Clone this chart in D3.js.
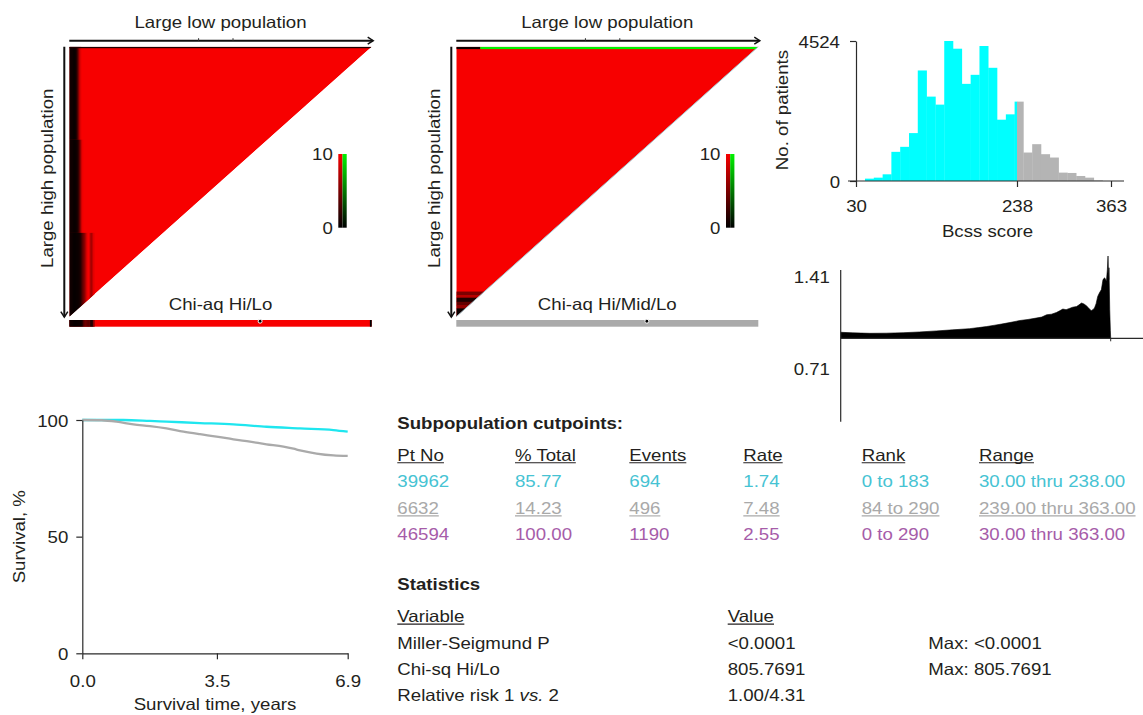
<!DOCTYPE html>
<html>
<head>
<meta charset="utf-8">
<script src="https://cdn.jsdelivr.net/npm/d3@7"></script>
<style>
  html, body { margin: 0; padding: 0; background: #fff; }
  svg { display: block; font-family: "Liberation Sans", Arial, Helvetica, sans-serif; }
</style>
</head>
<body>
<svg id="chart" width="1143" height="715"></svg>
<script>
// ---------------- data ----------------
const rankMax = 290;          // patients ranked 0..290 along both population axes
const optimalRank = 183;      // selected cut point
const rankMarks = [124, 157];
const legendTicks = [0, 10];

// Hi/Lo chi-square by low-population rank for the leading columns (others saturate >= 10),
// given for three bands of high-population rank
const hiLoBandStarts = [0, 100, 200];
const hiLoChiBandA = [0.2, 0.2, 0.25, 0.3, 0.35, 0.45, 0.9, 2.2, 4.5, 7, 9];
const hiLoChiBandB = [0.2, 0.2, 0.25, 0.3, 0.35, 0.4, 0.5, 0.8, 1.6, 3.2, 5.5, 8, 9.5];
const hiLoChiBandC = [0.15, 0.15, 0.2, 0.2, 0.25, 0.3, 0.35, 0.4, 0.5, 0.7, 1.1, 2.2, 3.5, 4.5, 5.5, 7, 8.5, 9.5, 10, 9, 7, 6.5, 8, 9.5];
const hiLoTopRowChi = 1.2;
const hiLoBarChi = [0.2, 0.2, 0.2, 0.25, 0.25, 0.3, 0.3, 0.35, 0.4, 0.45, 0.5, 0.7, 1.2, 3, 4, 4.5, 4.2, 3.8, 3.5, 3.8, 1.2, 0.9, 1.5, 6.5];

// Hi/Mid/Lo: top-row runs [start rank, chi] (negative = inverse association) and bottom-row runs
const hmlTopRuns = [[0, 0.5], [23, -10]];
const hmlBottomRuns = [[263, 5], [266.7, 7.5], [269.6, 1.2], [274, 4], [277.4, 6], [281, 0.4]];

// Bcss score histogram
const binEdges = [41.6, 53.0, 64.4, 75.7, 87.1, 98.5, 109.8, 121.2, 132.6, 144.0, 155.3, 166.7, 178.1,
                  189.5, 200.8, 212.2, 223.6, 234.9, 246.5, 258.2, 269.9, 281.6, 293.3, 305.0, 316.7,
                  328.4, 340.1, 351.8];
const binCounts = [76, 108, 216, 942, 1104, 1548, 3572, 2727, 2468, 4524, 4275, 3139, 3431,
                   4362, 3658, 1981, 2154, 2565, 920, 1190, 866, 758, 271, 260, 162, 108, 20];
const cutScore = 238;
const histXTicks = [30, 238, 363];
const histYTicks = [0, 4524];

// relative-risk profile across scores
const rrScore = [30, 45, 66, 86, 107, 127, 148, 168, 189, 200, 210, 220, 230, 240, 251, 261, 271, 278, 284,
                 290, 296, 300, 304, 308, 312, 316, 321, 324, 327, 330, 333, 336, 339, 341, 343, 345, 347,
                 349, 351.5, 353.5, 355.6, 357.7, 358.9, 359.7, 360.5, 360.9, 361.8, 362.6, 363];
const rrValue = [1.040, 1.036, 1.033, 1.034, 1.037, 1.042, 1.049, 1.056, 1.064, 1.071, 1.078, 1.087, 1.096,
                 1.106, 1.118, 1.125, 1.134, 1.141, 1.156, 1.160, 1.171, 1.182, 1.194, 1.190, 1.198, 1.206,
                 1.211, 1.222, 1.234, 1.228, 1.216, 1.200, 1.183, 1.190, 1.201, 1.230, 1.278, 1.300, 1.323,
                 1.390, 1.401, 1.379, 1.457, 1.546, 1.390, 1.468, 1.190, 1.05, 1.0];
const rrTicks = [0.71, 1.41];

// Kaplan-Meier survival
const survLoTime = [0, 1.07, 1.76, 2.19, 3.06, 3.93, 4.79, 5.66, 6.53, 6.9];
const survLoPct  = [100, 100, 99.6, 99.3, 98.7, 98.1, 97.1, 96.4, 95.7, 95.0];
const survHiTime = [0, 0.5, 0.89, 1.33, 1.76, 2.19, 2.63, 3.06, 3.49, 3.93, 4.36, 4.79, 5.23, 5.49, 5.66, 6.09, 6.53, 6.9];
const survHiPct  = [100, 99.9, 99.3, 98.1, 97.4, 96.4, 95.0, 93.9, 92.9, 91.7, 90.7, 89.6, 88.6, 87.7, 87.0, 85.6, 84.8, 84.6];
const survXTicks = [0, 3.5, 6.9];
const survYTicks = [0, 50, 100];

// subpopulation table
const cutHeaders = ["Pt No", "% Total", "Events", "Rate", "Rank", "Range"];
const cutRows = [
  ["39962", "85.77", "694", "1.74", "0 to 183", "30.00 thru 238.00"],
  ["6632", "14.23", "496", "7.48", "84 to 290", "239.00 thru 363.00"],
  ["46594", "100.00", "1190", "2.55", "0 to 290", "30.00 thru 363.00"]
];
const statHeaders = ["Variable", "Value"];
const statRows = [
  ["Miller-Seigmund P", "<0.0001", "Max: <0.0001"],
  ["Chi-sq Hi/Lo", "805.7691", "Max: 805.7691"],
  ["Relative risk 1 vs. 2", "1.00/4.31", ""]
];

// ---------------- style ----------------
const INK = "#231f20";
const AXIS = "#2a2a2a";
const RED = "#f70000", GREEN = "#00f200";
const CYAN_BAR = "#00ffff", GRAY_BAR = "#b4b4b4";
const CYAN_LINE = "#1fe6ef", GRAY_LINE = "#aaaaaa";
const rowColors = ["#46c3d3", "#a9a9a9", "#a65ca9"];
const FS = 16.5;
const STRETCH = 1.13;

const svg = d3.select("#chart");

function heatColor(v) {
  return v >= 0
    ? d3.interpolateRgb("#000000", RED)(Math.min(v, 10) / 10)
    : d3.interpolateRgb("#000000", GREEN)(Math.min(-v, 10) / 10);
}

// widen glyphs slightly, the way the typeface is set in this figure
function widen(sel) {
  sel.each(function () {
    const len = this.getComputedTextLength();
    if (len > 0) {
      this.setAttribute("textLength", (len * STRETCH).toFixed(2));
      this.setAttribute("lengthAdjust", "spacingAndGlyphs");
    }
  });
  return sel;
}

function label(g, x, y, str, opt = {}) {
  const t = g.append("text")
    .attr("x", x).attr("y", y)
    .attr("font-size", opt.size || FS)
    .attr("font-weight", opt.weight || null)
    .attr("text-anchor", opt.anchor || "start")
    .attr("fill", opt.fill || INK)
    .text(str);
  if (opt.rotate) t.attr("transform", `rotate(-90,${x},${y})`);
  widen(t);
  return t;
}

function underline(g, textSel, y, color) {
  const n = textSel.node();
  const x = +n.getAttribute("x");
  const w = +n.getAttribute("textLength") || n.getComputedTextLength();
  g.append("line").attr("x1", x).attr("x2", x + w)
    .attr("y1", y).attr("y2", y)
    .attr("stroke", color).attr("stroke-width", 1.1);
}

// ---------------- heat-map triangles ----------------
function heatPanel(cfg, id) {
  const g = svg.append("g");
  const x = d3.scaleLinear().domain([0, rankMax]).range([cfg.x0, cfg.x1]);
  const y = d3.scaleLinear().domain([0, rankMax]).range([cfg.y0, cfg.y1]);
  const tri = d3.line()([[x(0), y(0)], [x(rankMax), y(0)], [x(0), y(rankMax)]]) + "Z";

  svg.append("defs").append("clipPath").attr("id", id)
    .append("path").attr("d", tri);

  const body = g.append("g").attr("clip-path", `url(#${id})`);
  body.append("path").attr("d", tri).attr("fill", RED);
  cfg.cells(body, x, y);
  if (cfg.edge) g.append("line")
    .attr("x1", x(0)).attr("y1", y(rankMax)).attr("x2", x(rankMax)).attr("y2", y(0))
    .attr("stroke", cfg.edge).attr("stroke-width", 1);

  // top arrow (low population)
  const ay = cfg.y0 - 6;
  g.append("line").attr("x1", x(0)).attr("x2", x(rankMax) + 1).attr("y1", ay).attr("y2", ay)
    .attr("stroke", "#111").attr("stroke-width", 2);
  g.append("path").attr("d", `M${x(rankMax) - 4},${ay - 3.5}L${x(rankMax) + 1.5},${ay}L${x(rankMax) - 4},${ay + 3.5}`)
    .attr("fill", "none").attr("stroke", "#111").attr("stroke-width", 1.5);
  rankMarks.forEach(r => g.append("line").attr("x1", x(r)).attr("x2", x(r))
    .attr("y1", ay - 2.5).attr("y2", ay).attr("stroke", "#333").attr("stroke-width", 1));

  // left arrow (high population)
  const ax = cfg.x0 - 5;
  g.append("line").attr("x1", ax).attr("x2", ax).attr("y1", y(0)).attr("y2", y(rankMax))
    .attr("stroke", "#111").attr("stroke-width", 2);
  g.append("path").attr("d", `M${ax - 3.5},${y(rankMax) - 5}L${ax},${y(rankMax) + 0.5}L${ax + 3.5},${y(rankMax) - 5}`)
    .attr("fill", "none").attr("stroke", "#111").attr("stroke-width", 1.5);

  // titles
  const cx = (x(0) + x(rankMax)) / 2;
  label(g, cx, 27.5, "Large low population", { anchor: "middle" });
  label(g, cfg.x0 - 15.8, 178.3, "Large high population", { anchor: "middle", rotate: true });
  label(g, cx, 310, cfg.sub, { anchor: "middle" });

  // colour key
  const ly = d3.scaleLinear().domain(d3.extent(legendTicks)).range([227.7, 154]);
  const defs = svg.append("defs");
  [["r", 1], ["g", -1]].forEach(([k, sgn]) => {
    const gr = defs.append("linearGradient").attr("id", id + k)
      .attr("x1", 0).attr("y1", 1).attr("x2", 0).attr("y2", 0);
    legendTicks.forEach(v => gr.append("stop")
      .attr("offset", (v - legendTicks[0]) / (legendTicks[1] - legendTicks[0]))
      .attr("stop-color", heatColor(sgn * v)));
  });
  g.append("rect").attr("x", cfg.legendX).attr("y", ly(10)).attr("width", 4.2)
    .attr("height", ly(0) - ly(10)).attr("fill", `url(#${id}r)`);
  g.append("rect").attr("x", cfg.legendX + 4.2).attr("y", ly(10)).attr("width", 4.2)
    .attr("height", ly(0) - ly(10)).attr("fill", `url(#${id}g)`);
  legendTicks.forEach(v => label(g, cfg.legendX - 5.5, ly(v) + 6, String(v), { anchor: "end" }));

  // one-dimensional cut bar
  const by = 320, bh = 6.7;
  cfg.bar(g, x, by, bh);
  g.append("circle").attr("cx", x(optimalRank)).attr("cy", by + 1.2).attr("r", 2)
    .attr("fill", "#000").attr("stroke", "#fff").attr("stroke-width", 1);
}

function colRect(sel, x, y, c, r0, r1, v) {
  sel.append("rect").attr("x", x(c)).attr("y", y(r0))
    .attr("width", x(c + 1) - x(c) + 0.5).attr("height", Math.max(0, y(r1) - y(r0)))
    .attr("fill", heatColor(v));
}

heatPanel({
  x0: 69.3, x1: 371.7, y0: 46.7, y1: 316.7, legendX: 338.3, sub: "Chi-aq Hi/Lo",
  cells(body, x, y) {
    [hiLoChiBandA, hiLoChiBandB, hiLoChiBandC].forEach((band, b) => {
      const r0 = hiLoBandStarts[b];
      const r1 = b + 1 < hiLoBandStarts.length ? hiLoBandStarts[b + 1] : rankMax;
      band.forEach((v, c) => colRect(body, x, y, c, r0, Math.min(r1, rankMax - c), v));
    });
    body.append("rect").attr("x", x(0)).attr("y", y(0)).attr("width", x(rankMax) - x(0))
      .attr("height", y(1.6) - y(0)).attr("fill", heatColor(hiLoTopRowChi));
  },
  bar(g, x, by, bh) {
    g.append("rect").attr("x", x(0)).attr("y", by).attr("width", x(rankMax) - x(0)).attr("height", bh).attr("fill", RED);
    hiLoBarChi.forEach((v, c) => g.append("rect").attr("x", x(c)).attr("y", by)
      .attr("width", x(c + 1) - x(c) + 0.5).attr("height", bh).attr("fill", heatColor(v)));
    g.append("rect").attr("x", x(rankMax) - 1.8).attr("y", by).attr("width", 1.8).attr("height", bh).attr("fill", "#000");
  }
}, "hl");

heatPanel({
  x0: 456.3, x1: 758.3, y0: 46.7, y1: 316.7, legendX: 726, sub: "Chi-aq Hi/Mid/Lo", edge: "#a8c3cb",
  cells(body, x, y) {
    hmlTopRuns.forEach(([s, v], i) => {
      const e = i + 1 < hmlTopRuns.length ? hmlTopRuns[i + 1][0] : rankMax;
      body.append("rect").attr("x", x(s)).attr("y", y(0)).attr("width", x(e) - x(s))
        .attr("height", y(2.6) - y(0)).attr("fill", heatColor(v));
    });
    hmlBottomRuns.forEach(([s, v], i) => {
      const e = i + 1 < hmlBottomRuns.length ? hmlBottomRuns[i + 1][0] : rankMax;
      body.append("rect").attr("x", x(0)).attr("y", y(s)).attr("width", x(rankMax - s) - x(0))
        .attr("height", y(e) - y(s) + 0.3).attr("fill", heatColor(v));
    });
  },
  bar(g, x, by, bh) {
    g.append("rect").attr("x", x(0)).attr("y", by).attr("width", x(rankMax) - x(0)).attr("height", bh).attr("fill", "#aaaaaa");
  }
}, "hml");

// ---------------- histogram ----------------
{
  const g = svg.append("g");
  const xH = d3.scaleLinear().domain([30, 238, 363]).range([856, 1017, 1111]);
  const yH = d3.scaleLinear().domain([0, 4524]).range([181, 41]);
  const bins = binCounts.map((n, i) => ({ x0: binEdges[i], x1: binEdges[i + 1], n }));
  g.selectAll("rect.lo").data(bins.filter(b => b.x0 < cutScore)).join("rect")
    .attr("x", b => xH(b.x0)).attr("width", b => xH(Math.min(b.x1, cutScore)) - xH(b.x0) + 0.3)
    .attr("y", b => yH(b.n)).attr("height", b => yH(0) - yH(b.n)).attr("fill", CYAN_BAR);
  g.selectAll("rect.hi").data(bins.filter(b => b.x1 > cutScore)).join("rect")
    .attr("x", b => xH(Math.max(b.x0, cutScore))).attr("width", b => xH(b.x1) - xH(Math.max(b.x0, cutScore)) + 0.3)
    .attr("y", b => yH(b.n)).attr("height", b => yH(0) - yH(b.n)).attr("fill", GRAY_BAR);

  g.append("line").attr("x1", 848).attr("x2", 1124).attr("y1", yH(0)).attr("y2", yH(0))
    .attr("stroke", AXIS).attr("stroke-width", 1.2);
  const ya = g.append("g").attr("transform", `translate(${xH(30)},0)`)
    .call(d3.axisLeft(yH).tickValues(histYTicks).tickFormat(d3.format("d"))
      .tickSize(6).tickSizeOuter(0).tickPadding(10));
  const xa = g.append("g").attr("transform", `translate(0,${yH(0)})`)
    .call(d3.axisBottom(xH).tickValues(histXTicks).tickFormat(d3.format("d")).tickSize(6).tickSizeOuter(0));
  xa.select(".domain").remove();
  [ya, xa].forEach(a => {
    a.selectAll("path,line").attr("stroke", AXIS).attr("stroke-width", 1.2);
    a.selectAll("text").attr("font-size", FS).attr("font-family", null).attr("fill", INK);
  });
  ya.selectAll("text").attr("dy", 0).attr("y", 6);
  xa.selectAll("text").attr("dy", 0).attr("y", 30.5);
  widen(ya.selectAll("text")); widen(xa.selectAll("text"));

  label(g, 987.5, 236.8, "Bcss score", { anchor: "middle" });
  label(g, 787.5, 110, "No. of patients", { anchor: "middle", rotate: true });
}

// ---------------- relative-risk profile ----------------
{
  const g = svg.append("g");
  const xR = d3.scaleLinear().domain([30, 363]).range([840.7, 1110.7]);
  const yR = d3.scaleLinear().domain([0.71, 1, 1.41]).range([369, 338.3, 276.5]);
  const pts = rrScore.map((s, i) => [s, rrValue[i]]);
  g.append("path").datum(pts)
    .attr("d", d3.area().x(d => xR(d[0])).y0(yR(1)).y1(d => yR(d[1])))
    .attr("fill", "#000").attr("stroke", "#000").attr("stroke-width", 0.6);
  g.append("line").attr("x1", 840.7).attr("x2", 840.7).attr("y1", 270).attr("y2", 421.7)
    .attr("stroke", AXIS).attr("stroke-width", 1.2);
  g.append("line").attr("x1", 840.7).attr("x2", 1143).attr("y1", yR(1)).attr("y2", yR(1))
    .attr("stroke", AXIS).attr("stroke-width", 1.2);
  g.append("line").attr("x1", xR(363)).attr("x2", xR(363)).attr("y1", yR(1)).attr("y2", yR(1) + 3)
    .attr("stroke", AXIS).attr("stroke-width", 1);
  rrTicks.forEach(v => label(g, 830, yR(v) + 6, d3.format(".2f")(v), { anchor: "end" }));
}

// ---------------- survival curves ----------------
{
  const g = svg.append("g");
  const xS = d3.scaleLinear().domain([0, 6.9]).range([82.3, 347.7]);
  const yS = d3.scaleLinear().domain([0, 100]).range([653.3, 420]);
  const line = d3.line().x(d => xS(d[0])).y(d => yS(d[1])).curve(d3.curveMonotoneX);
  g.append("path").datum(survLoTime.map((t, i) => [t, survLoPct[i]]))
    .attr("d", line).attr("fill", "none").attr("stroke", CYAN_LINE).attr("stroke-width", 2.3);
  g.append("path").datum(survHiTime.map((t, i) => [t, survHiPct[i]]))
    .attr("d", line).attr("fill", "none").attr("stroke", GRAY_LINE).attr("stroke-width", 2.3);

  const ya = g.append("g").attr("transform", `translate(${xS(0)},0)`)
    .call(d3.axisLeft(yS).tickValues(survYTicks).tickSize(6).tickSizeOuter(0).tickPadding(8));
  const xa = g.append("g").attr("transform", `translate(0,${yS(0)})`)
    .call(d3.axisBottom(xS).tickValues(survXTicks).tickFormat(d3.format(".1f")).tickSize(6).tickSizeOuter(0));
  [ya, xa].forEach(a => {
    a.selectAll("path,line").attr("stroke", AXIS).attr("stroke-width", 1.2);
    a.selectAll("text").attr("font-size", FS).attr("font-family", null).attr("fill", INK);
  });
  ya.selectAll("text").attr("dy", 0).attr("y", 6);
  xa.selectAll("text").attr("dy", 0).attr("y", 33.3);
  widen(ya.selectAll("text")); widen(xa.selectAll("text"));

  label(g, 215, 710, "Survival time, years", { anchor: "middle" });
  label(g, 25, 536.7, "Survival, %", { anchor: "middle", rotate: true });
}

// ---------------- tables ----------------
{
  const g = svg.append("g");
  const colX = [397.3, 515, 629.3, 743.3, 861.7, 979];
  label(g, 397.3, 428.5, "Subpopulation cutpoints:", { weight: "bold" });
  cutHeaders.forEach((h, i) => {
    const t = label(g, colX[i], 460.5, h);
    underline(g, t, 462.8, INK);
  });
  const rowY = [487, 513.6, 540.2];
  cutRows.forEach((row, r) => row.forEach((v, i) => {
    const t = label(g, colX[i], rowY[r], v, { fill: rowColors[r] });
    if (r === 1) underline(g, t, rowY[r] + 2.3, rowColors[r]);
  }));

  const sX = [397.3, 727.7, 928.3];
  label(g, 397.3, 590, "Statistics", { weight: "bold" });
  statHeaders.forEach((h, i) => {
    const t = label(g, sX[i], 621.8, h);
    underline(g, t, 624.1, INK);
  });
  const sY = [648.6, 675, 700.6];
  statRows.forEach((row, r) => row.forEach((v, i) => {
    if (!v) return;
    if (v.includes(" vs. ")) {
      const [a, b] = v.split(" vs. ");
      const t = g.append("text").attr("x", sX[i]).attr("y", sY[r]).attr("font-size", FS).attr("fill", INK);
      t.append("tspan").text(a + " ");
      t.append("tspan").attr("font-style", "italic").text("vs.");
      t.append("tspan").text(" " + b);
      widen(t);
    } else {
      label(g, sX[i], sY[r], v);
    }
  }));
}
</script>
</body>
</html>
